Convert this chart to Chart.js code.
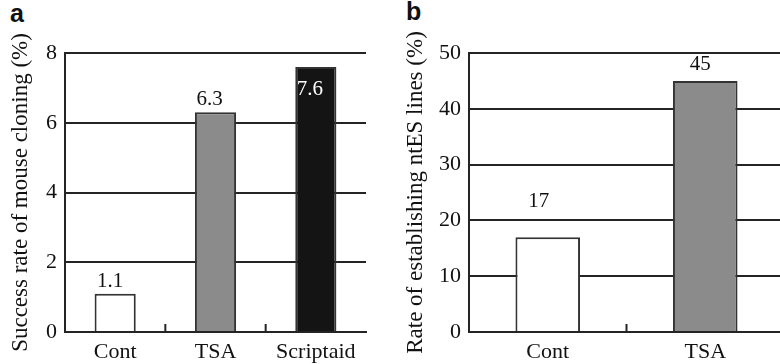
<!DOCTYPE html>
<html>
<head>
<meta charset="utf-8">
<script src="https://cdn.jsdelivr.net/npm/chart.js@4.4.1/dist/chart.umd.min.js"></script>
<style>
  html, body { margin: 0; padding: 0; background: #fff; width: 780px; height: 364px; overflow: hidden; }
  .panel { position: absolute; top: 0; }
  .letter { position: absolute; font: bold 25px 'Liberation Sans', Arial, sans-serif; line-height: 25px; color: #111; }
</style>
</head>
<body>
<div class="letter" style="left:10px; top:1px;">a</div>
<div class="letter" style="left:406px; top:-1px;">b</div>
<div class="panel" style="left:0;"><canvas id="chartA" width="380" height="364"></canvas></div>
<div class="panel" style="left:390px;"><canvas id="chartB" width="400" height="364"></canvas></div>
<script>
// panel a: mouse cloning
const cloningGroups = ['Cont', 'TSA', 'Scriptaid'];
const cloningRates = [1.1, 6.3, 7.6];
const cloningTicks = [0, 2, 4, 6, 8];

// panel b: ntES lines
const ntesGroups = ['Cont', 'TSA'];
const ntesRates = [17, 45];
const ntesTicks = [0, 10, 20, 30, 40, 50];

const ink = '#242424';
const serif = "'Liberation Serif', 'Times New Roman', serif";

// small marks between categories + value labels over the bars
const extras = {
  id: 'extras',
  afterDatasetsDraw(chart, args, opts) {
    const ctx = chart.ctx;
    const x = chart.scales.x;
    const area = chart.chartArea;
    ctx.save();
    ctx.strokeStyle = ink;
    ctx.lineWidth = 2;
    for (let i = 1; i < chart.data.labels.length; i++) {
      const px = (x.getPixelForValue(i - 1) + x.getPixelForValue(i)) / 2;
      ctx.beginPath();
      ctx.moveTo(px, area.bottom);
      ctx.lineTo(px, area.bottom - 8);
      ctx.stroke();
    }
    ctx.font = '21px ' + serif;
    ctx.textAlign = 'center';
    ctx.textBaseline = 'alphabetic';
    const meta = chart.getDatasetMeta(0);
    meta.data.forEach((bar, i) => {
      const v = chart.data.datasets[0].data[i];
      ctx.fillStyle = opts.colors[i];
      ctx.fillText(String(v), bar.x + opts.dx[i], bar.y + opts.dy[i]);
    });
    ctx.restore();
  }
};

function makePanel(id, groups, values, ticks, fills, title, yWidth, titlePad, padRight, labelOpts) {
  return new Chart(document.getElementById(id), {
    type: 'bar',
    data: {
      labels: groups,
      datasets: [{
        data: values,
        backgroundColor: fills,
        borderColor: '#333',
        borderWidth: 2,
        barPercentage: 0.41,
        categoryPercentage: 1
      }]
    },
    options: {
      responsive: false,
      animation: false,
      layout: { padding: { top: 53, right: padRight, bottom: 0, left: 0 } },
      plugins: {
        legend: { display: false },
        tooltip: { enabled: false },
        extras: labelOpts
      },
      scales: {
        x: {
          grid: { display: false },
          border: { display: true, color: ink, width: 2 },
          ticks: { color: '#111', font: { family: serif, size: 22 }, padding: -1 },
          afterFit: s => { s.height = 32; }
        },
        y: {
          min: ticks[0],
          max: ticks[ticks.length - 1],
          afterBuildTicks: s => { s.ticks = ticks.map(v => ({ value: v })); },
          grid: { color: ink, lineWidth: 2, drawTicks: false },
          border: { display: true, color: ink, width: 2 },
          ticks: { color: '#111', font: { family: serif, size: 22 }, padding: 8 },
          title: {
            display: true,
            text: title,
            color: '#111',
            font: { family: serif, size: 23 },
            padding: { top: titlePad, bottom: 0 }
          },
          afterFit: s => { s.width = yWidth; }
        }
      }
    },
    plugins: [extras]
  });
}

makePanel('chartA', cloningGroups, cloningRates, cloningTicks,
  ['#ffffff', '#8b8b8b', '#141414'],
  'Success rate of mouse cloning (%)', 65, 7, 14,
  { dx: [-5, -6, -6], dy: [-7, -7, 28], colors: ['#111', '#111', '#fff'] });

makePanel('chartB', ntesGroups, ntesRates, ntesTicks,
  ['#ffffff', '#8b8b8b'],
  'Rate of establishing ntES lines (%)', 79, 12, 6,
  { dx: [-9, -5], dy: [-30, -11], colors: ['#111', '#111'] });
</script>
</body>
</html>
